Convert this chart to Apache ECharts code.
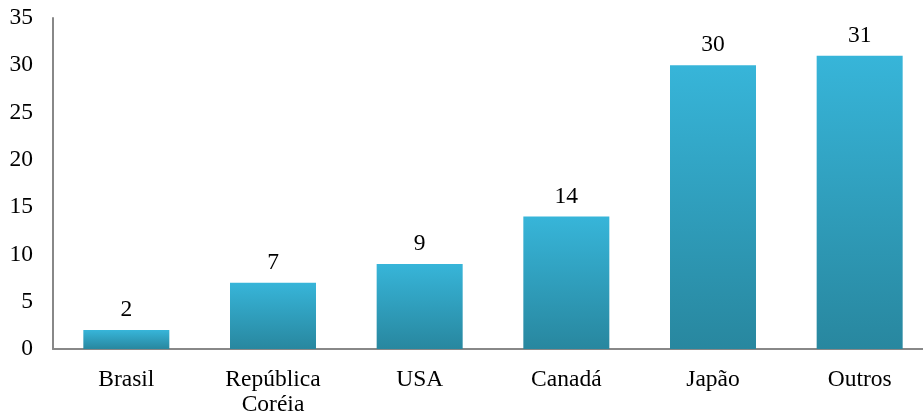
<!DOCTYPE html>
<html>
<head>
<meta charset="utf-8">
<script src="https://cdn.jsdelivr.net/npm/echarts@6/dist/echarts.min.js"></script>
<style>
  html, body { margin: 0; padding: 0; background: #fff; }
  #chart { width: 923px; height: 416px; }
</style>
</head>
<body>
<div id="chart"></div>
<script>
// Categories and values
const categories = ['Brasil', 'República\nCoréia', 'USA', 'Canadá', 'Japão', 'Outros'];
const values = [2, 7, 9, 14, 30, 31];
const yTicks = { min: 0, max: 35, interval: 5 };

const serif = '"Liberation Serif", "DejaVu Serif", serif';
const fontSize = 23.5;

const chart = echarts.init(document.getElementById('chart'), null, { renderer: 'canvas' });
chart.setOption({
  animation: false,
  grid: {
    left: 53, width: 880, top: 18, height: 331,
    containLabel: false, outerBoundsMode: 'none'
  },
  xAxis: {
    type: 'category',
    data: categories,
    axisLine: { show: true, lineStyle: { color: '#888888', width: 2 } },
    axisTick: { show: false },
    axisLabel: {
      color: '#000', fontFamily: serif, fontSize: fontSize, margin: 18, lineHeight: 25
    }
  },
  yAxis: {
    type: 'value',
    min: yTicks.min, max: yTicks.max, interval: yTicks.interval,
    axisLine: { show: true, lineStyle: { color: '#888888', width: 2 } },
    axisTick: { show: false },
    splitLine: { show: false },
    axisLabel: { color: '#000', fontFamily: serif, fontSize: fontSize, margin: 20 }
  },
  series: [{
    type: 'bar',
    data: values,
    barWidth: 86,
    itemStyle: {
      color: new echarts.graphic.LinearGradient(0, 0, 0, 1, [
        { offset: 0, color: '#37b5d9' },
        { offset: 1, color: '#28879f' }
      ])
    },
    label: {
      show: true, position: 'top', distance: 8,
      color: '#000', fontFamily: serif, fontSize: fontSize
    }
  }]
});
</script>
</body>
</html>
